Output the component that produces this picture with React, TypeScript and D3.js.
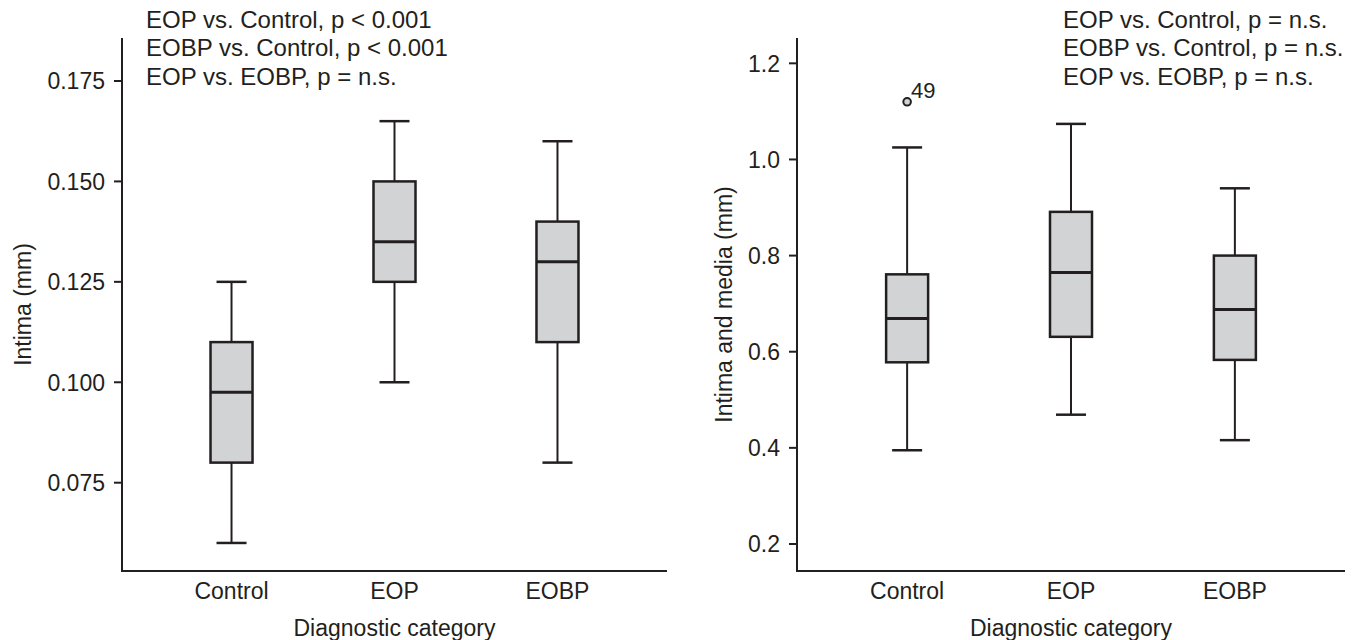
import React from 'react';
import * as d3 from 'd3';

// diagnostic groups on the x axis
const categories = ['Control', 'EOP', 'EOBP'];

// left panel: intima thickness (mm)
const intimaLow = [0.060, 0.100, 0.080];
const intimaQ1 = [0.080, 0.125, 0.110];
const intimaMedian = [0.0975, 0.135, 0.130];
const intimaQ3 = [0.110, 0.150, 0.140];
const intimaHigh = [0.125, 0.165, 0.160];
const intimaTicks = [0.075, 0.100, 0.125, 0.150, 0.175];
const intimaNotes = [
  'EOP vs. Control, p < 0.001',
  'EOBP vs. Control, p < 0.001',
  'EOP vs. EOBP, p = n.s.',
];

// right panel: intima and media thickness (mm)
const imLow = [0.395, 0.469, 0.416];
const imQ1 = [0.578, 0.631, 0.583];
const imMedian = [0.669, 0.765, 0.688];
const imQ3 = [0.761, 0.891, 0.800];
const imHigh = [1.025, 1.074, 0.940];
const imTicks = [0.2, 0.4, 0.6, 0.8, 1.0, 1.2];
const imOutlierCats = ['Control'];
const imOutlierValues = [1.12];
const imOutlierLabels = ['49'];
const imNotes = [
  'EOP vs. Control, p = n.s.',
  'EOBP vs. Control, p = n.s.',
  'EOP vs. EOBP, p = n.s.',
];

const ink = '#231f20';
const boxFill = '#d1d3d4';
const font = '"Liberation Sans", Arial, Helvetica, sans-serif';

type PanelProps = {
  x0: number;
  x1: number;
  domain: [number, number];
  ticks: number[];
  fmt: string;
  low: number[];
  q1: number[];
  med: number[];
  q3: number[];
  high: number[];
  notes: string[];
  notesX: number;
  yTitle: string;
  yTitleX: number;
  outCats?: string[];
  outVals?: number[];
  outLabels?: string[];
};

function Panel(p: PanelProps) {
  const top = 38, bottom = 571;
  const y = d3.scaleLinear().domain(p.domain).range([bottom, top]);
  const x = d3.scalePoint().domain(categories).range([p.x0, p.x1]).padding(0.672);
  const fmt = d3.format(p.fmt);
  const bw = 42, cw = 30;

  return (
    <g fontFamily={font} fill={ink}>
      {/* axes */}
      <line x1={p.x0} x2={p.x0} y1={top} y2={bottom + 1} stroke={ink} strokeWidth={2} />
      <line x1={p.x0 - 1} x2={p.x1} y1={bottom} y2={bottom} stroke={ink} strokeWidth={2} />
      {p.ticks.map(t => (
        <g key={t}>
          <line x1={p.x0 - 8} x2={p.x0} y1={y(t)} y2={y(t)} stroke={ink} strokeWidth={2} />
          <text x={p.x0 - 17} y={y(t)} dy="0.36em" textAnchor="end" fontSize={23}>{fmt(t)}</text>
        </g>
      ))}
      {categories.map(c => (
        <text key={c} x={x(c)} y={599} textAnchor="middle" fontSize={23}>{c}</text>
      ))}
      <text x={(p.x0 + p.x1) / 2} y={636} textAnchor="middle" fontSize={23}>Diagnostic category</text>
      <text transform={`translate(${p.yTitleX},${(top + bottom) / 2}) rotate(-90)`} textAnchor="middle" fontSize={23}>{p.yTitle}</text>

      {/* boxes */}
      {categories.map((c, i) => {
        const cx = x(c) as number;
        return (
          <g key={c} stroke={ink}>
            <line x1={cx} x2={cx} y1={y(p.q3[i])} y2={y(p.high[i])} strokeWidth={2} />
            <line x1={cx} x2={cx} y1={y(p.q1[i])} y2={y(p.low[i])} strokeWidth={2} />
            <line x1={cx - cw / 2} x2={cx + cw / 2} y1={y(p.high[i])} y2={y(p.high[i])} strokeWidth={2.5} />
            <line x1={cx - cw / 2} x2={cx + cw / 2} y1={y(p.low[i])} y2={y(p.low[i])} strokeWidth={2.5} />
            <rect x={cx - bw / 2} y={y(p.q3[i])} width={bw} height={y(p.q1[i]) - y(p.q3[i])} fill={boxFill} strokeWidth={2.5} />
            <line x1={cx - bw / 2} x2={cx + bw / 2} y1={y(p.med[i])} y2={y(p.med[i])} strokeWidth={3} />
          </g>
        );
      })}

      {/* outliers */}
      {(p.outCats || []).map((c, i) => {
        const cx = x(c) as number;
        const cy = y(p.outVals![i]);
        return (
          <g key={'o' + i}>
            <circle cx={cx} cy={cy} r={3.8} fill={boxFill} stroke={ink} strokeWidth={2} />
            <text x={cx + 4} y={cy - 4} fontSize={22}>{p.outLabels![i]}</text>
          </g>
        );
      })}

      {/* significance notes */}
      {p.notes.map((n, i) => (
        <text key={n} x={p.notesX} y={28 + i * 28.4} fontSize={24}>{n}</text>
      ))}
    </g>
  );
}

export default function App() {
  return (
    <svg width={1354} height={640} style={{ position: 'absolute', left: 0, top: 0, background: '#fff' }}>
      <rect width={1354} height={640} fill="#fff" />
      <Panel x0={122} x1={667} domain={[0.05302, 0.1857]} ticks={intimaTicks} fmt=".3f"
        low={intimaLow} q1={intimaQ1} med={intimaMedian} q3={intimaQ3} high={intimaHigh}
        notes={intimaNotes} notesX={146} yTitle="Intima (mm)" yTitleX={31} />
      <Panel x0={797} x1={1345} domain={[0.1438, 1.2527]} ticks={imTicks} fmt=".1f"
        low={imLow} q1={imQ1} med={imMedian} q3={imQ3} high={imHigh}
        notes={imNotes} notesX={1063} yTitle="Intima and media (mm)" yTitleX={732}
        outCats={imOutlierCats} outVals={imOutlierValues} outLabels={imOutlierLabels} />
    </svg>
  );
}
